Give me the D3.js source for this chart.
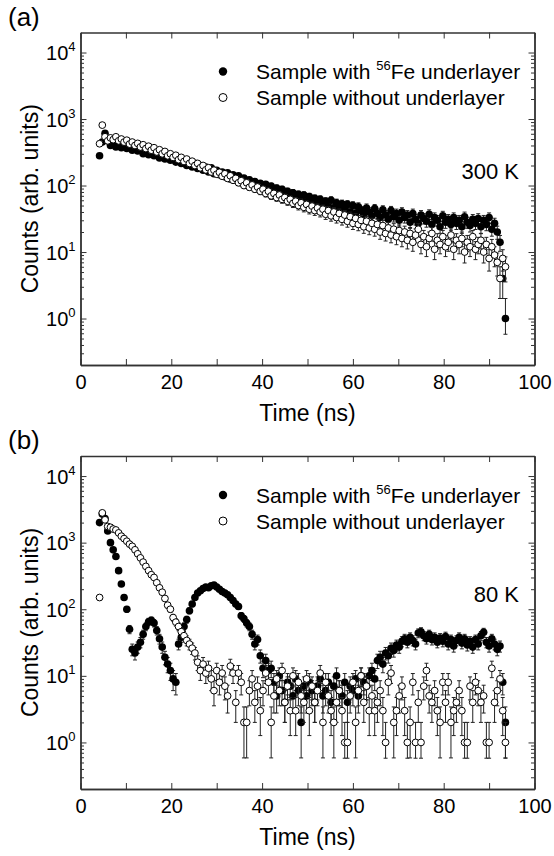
<!DOCTYPE html>
<html>
<head>
<meta charset="utf-8">
<script src="https://cdn.jsdelivr.net/npm/d3@7"></script>
<style>
  body { margin: 0; background: #fff; }
  svg { display: block; font-family: Arial, "Liberation Sans", sans-serif; }
</style>
</head>
<body>
<div id="chart-holder"></div>
<script>
// ****DATA**** (counts per time channel)
const timeNs = [
  4.2, 4.8, 5.4, 6.0, 6.6, 7.2, 7.8, 8.4, 9.0, 9.6,
  10.2, 10.8, 11.4, 12.0, 12.6, 13.2, 13.8, 14.4, 15.0, 15.6,
  16.2, 16.8, 17.4, 18.0, 18.6, 19.2, 19.8, 20.4, 21.0, 21.6,
  22.2, 22.8, 23.4, 24.0, 24.6, 25.2, 25.8, 26.4, 27.0, 27.6,
  28.2, 28.8, 29.4, 30.0, 30.6, 31.2, 31.8, 32.4, 33.0, 33.6,
  34.2, 34.8, 35.4, 36.0, 36.6, 37.2, 37.8, 38.4, 39.0, 39.6,
  40.2, 40.8, 41.4, 42.0, 42.6, 43.2, 43.8, 44.4, 45.0, 45.6,
  46.2, 46.8, 47.4, 48.0, 48.6, 49.2, 49.8, 50.4, 51.0, 51.6,
  52.2, 52.8, 53.4, 54.0, 54.6, 55.2, 55.8, 56.4, 57.0, 57.6,
  58.2, 58.8, 59.4, 60.0, 60.6, 61.2, 61.8, 62.4, 63.0, 63.6,
  64.2, 64.8, 65.4, 66.0, 66.6, 67.2, 67.8, 68.4, 69.0, 69.6,
  70.2, 70.8, 71.4, 72.0, 72.6, 73.2, 73.8, 74.4, 75.0, 75.6,
  76.2, 76.8, 77.4, 78.0, 78.6, 79.2, 79.8, 80.4, 81.0, 81.6,
  82.2, 82.8, 83.4, 84.0, 84.6, 85.2, 85.8, 86.4, 87.0, 87.6,
  88.2, 88.8, 89.4, 90.0, 90.6, 91.2, 91.8, 92.4, 93.0, 93.6
];

// (a) 300 K
const withFe300K = [
  280, 450, 610, 470, 400, 430, 380, 410, 370, 400,
  360, 395, 340, 370, 330, 350, 300, 335, 290, 320,
  280, 310, 260, 290, 250, 275, 240, 265, 225, 250,
  215, 240, 200, 225, 190, 215, 180, 200, 170, 190,
  160, 185, 150, 170, 145, 160, 135, 155, 125, 145,
  120, 140, 110, 130, 105, 122, 98, 115, 92, 108,
  90, 104, 84, 98, 78, 92, 74, 88, 70, 82,
  68, 78, 64, 74, 60, 72, 57, 68, 55, 64,
  52, 62, 50, 58, 48, 60, 46, 55, 44, 53,
  43, 52, 40, 50, 38, 48, 42, 37, 46, 40,
  35, 45, 38, 33, 43, 36, 31, 42, 34, 38,
  30, 40, 33, 36, 28, 38, 31, 27, 36, 32,
  29, 37, 26, 33, 30, 24, 35, 28, 31, 26,
  33, 27, 30, 24, 34, 28, 25, 31, 27, 32,
  24, 30, 26, 33, 22, 27, 20, 14, 4, 1
];
const withoutFe300K = [
  425, 810, 540, 470, 520, 490, 540, 470, 500, 450,
  480, 420, 450, 400, 430, 380, 410, 360, 390, 340,
  370, 320, 345, 300, 325, 280, 300, 265, 285, 245,
  265, 230, 250, 215, 232, 200, 215, 185, 200, 172,
  185, 160, 170, 148, 158, 138, 150, 128, 140, 120,
  128, 110, 118, 100, 110, 94, 102, 88, 95, 82,
  88, 76, 82, 70, 76, 66, 72, 62, 66, 58,
  62, 54, 58, 50, 55, 47, 52, 44, 49, 42,
  46, 40, 44, 37, 42, 35, 40, 33, 38, 31,
  36, 29, 34, 27, 32, 26, 30, 24, 29, 23,
  27, 22, 26, 20, 25, 19, 23, 18, 22, 17,
  21, 16, 20, 15, 19, 14, 18, 22, 13, 17,
  12, 16, 19, 11, 15, 13, 17, 12, 14, 18,
  11, 15, 13, 16, 10, 14, 12, 17, 11, 13,
  15, 10, 13, 8, 12, 9, 7, 4, 8, 6
];

// (b) 80 K
const withFe80K = [
  2000, 2700, 2300, 1500, 1000, 780, 620, 380, 240, 150,
  100, 50, 25, 22, 27, 32, 42, 55, 65, 68,
  62, 48, 36, 27, 19, 15, 12, 9, 8, 30,
  38, 55, 70, 95, 120, 150, 175, 190, 205, 215,
  210, 225, 230, 215, 200, 185, 175, 165, 150, 135,
  120, 110, 80, 72, 62, 55, 42, 30, 35, 20,
  13, 17, 12, 13, 8, 5, 10, 6, 4, 8,
  7, 5, 9, 6, 2, 7, 5, 8, 6, 4,
  7, 9, 5, 6, 8, 4, 7, 10, 6, 5,
  8, 4, 7, 6, 9, 5, 10, 8, 7, 10,
  12, 9, 17, 19, 15, 22, 20, 26, 24, 29,
  27, 33, 36, 32, 38, 34, 30, 44, 46, 40,
  36, 42, 35, 38, 32, 37, 33, 39, 30, 35,
  28, 34, 38, 31, 36, 29, 33, 27, 35, 30,
  40, 45, 32, 28, 36, 30, 25, 28, 8, 2
];
const withoutFe80K = [
  150, 2800, 2200, 1750, 1700, 1600, 1550, 1400, 1250, 1150,
  1050, 950, 880, 780, 680, 590, 510, 440, 380, 330,
  300, 250, 210, 180, 145, 115, 100, 75, 64, 55,
  46, 40, 34, 30, 26, 22, 16, 12, 15, 11,
  13, 9, 6, 12, 8, 11, 7, 5, 14, 11,
  4, 11, 8, 2, 2, 6, 9, 4, 7, 3,
  6, 11, 8, 2, 5, 9, 6, 12, 4, 7,
  3, 10, 3, 8, 5, 4, 9, 3, 7, 4,
  6, 11, 2, 8, 5, 3, 2, 4, 6, 3,
  1, 1, 5, 8, 2, 6, 10, 4, 7, 3,
  5, 3, 4, 6, 3, 1, 8, 11, 2, 3,
  5, 7, 3, 1, 2, 8, 1, 4, 1, 7,
  12, 5, 4, 6, 3, 2, 8, 4, 8, 2,
  3, 4, 6, 3, 1, 1, 7, 4, 8, 6,
  4, 5, 1, 1, 13, 4, 6, 9, 3, 1
];

const xTickValues = [0, 20, 40, 60, 80, 100];
const xMinorTicks = [10, 30, 50, 70, 90];
const yDecades = [1, 10, 100, 1000, 10000];
const legendWith = ["Sample with ", "56", "Fe underlayer"];
const legendWithout = "Sample without underlayer";
const panelLetters = ["(a)", "(b)"];
const tempLabels = ["300 K", "80 K"];
const xTitle = "Time (ns)";
const yTitle = "Counts (arb. units)";

// ****SVG CANVAS****
const width = 554;
const height = 856;
const svg = d3.select('#chart-holder')
              .append('svg')
              .attr('width', width)
              .attr('height', height);

const panels = [
  { top: 32.5, bottom: 365, letter: panelLetters[0], temp: tempLabels[0],
    withData: withFe300K, withoutData: withoutFe300K },
  { top: 456, bottom: 789, letter: panelLetters[1], temp: tempLabels[1],
    withData: withFe80K, withoutData: withoutFe80K }
];

panels.forEach(drawPanel);

function drawPanel(p) {
  const left = 80.5, right = 534.5;
  const axisColor = '#333';

  const xScale = d3.scaleLinear().domain([0, 100]).range([left, right]);
  const yScale = d3.scaleLog().domain([0.2, 20000]).range([p.bottom, p.top]);

  const g = svg.append('g');

  // minor log ticks 2..9 inside the domain
  const yMinor = [];
  [-1, 0, 1, 2, 3, 4].forEach(function(k) {
    for (let m = 2; m <= 9; m++) {
      const v = m * Math.pow(10, k);
      if (v > 0.2 && v < 20000) yMinor.push(v);
    }
  });

  // ----- axes (ticks pointing inward) -----
  const bottomAxis = g.append('g')
      .attr('transform', `translate(0, ${p.bottom})`)
      .call(d3.axisBottom(xScale).tickValues(xTickValues).tickSize(-6)
              .tickSizeOuter(0).tickPadding(10).tickFormat(d3.format('d')));
  g.append('g')
      .attr('transform', `translate(0, ${p.bottom})`)
      .call(d3.axisBottom(xScale).tickValues(xMinorTicks).tickSize(-6)
              .tickSizeOuter(0).tickFormat(''));
  g.append('g')
      .attr('transform', `translate(0, ${p.top})`)
      .call(d3.axisTop(xScale).tickValues(xTickValues.concat(xMinorTicks)).tickSize(-6)
              .tickSizeOuter(0).tickFormat(''));

  const leftAxis = g.append('g')
      .attr('transform', `translate(${left}, 0)`)
      .call(d3.axisLeft(yScale).tickValues(yDecades).tickSize(-6)
              .tickSizeOuter(0).tickPadding(6).tickFormat(''));
  g.append('g')
      .attr('transform', `translate(${left}, 0)`)
      .call(d3.axisLeft(yScale).tickValues(yMinor).tickSize(-3.5)
              .tickSizeOuter(0).tickFormat(''));
  g.append('g')
      .attr('transform', `translate(${right}, 0)`)
      .call(d3.axisRight(yScale).tickValues(yDecades).tickSize(-6)
              .tickSizeOuter(0).tickFormat(''));
  g.append('g')
      .attr('transform', `translate(${right}, 0)`)
      .call(d3.axisRight(yScale).tickValues(yMinor).tickSize(-3.5)
              .tickSizeOuter(0).tickFormat(''));

  g.selectAll('.domain').attr('stroke', axisColor).attr('stroke-width', 1.4);
  g.selectAll('.tick line').attr('stroke', axisColor).attr('stroke-width', 1);

  bottomAxis.selectAll('text')
      .attr('font-size', 20)
      .attr('fill', '#000')
      .attr('font-family', 'Arial, "Liberation Sans", sans-serif');

  // decade labels 10^n with superscripts
  leftAxis.selectAll('.tick').each(function(d) {
    const t = d3.select(this).append('text')
        .attr('x', -5)
        .attr('y', 7)
        .attr('text-anchor', 'end')
        .attr('fill', '#000')
        .attr('font-size', 20)
        .attr('font-family', 'Arial, "Liberation Sans", sans-serif');
    t.append('tspan').text('10');
    t.append('tspan').attr('font-size', 13).attr('dy', -9)
        .text(Math.round(Math.log10(d)));
  });

  // ----- data -----
  const points = function(values) {
    return values.map(function(v, i) { return { t: timeNs[i], v: v }; });
  };
  const lowerErr = function(d) { return Math.max(d.v - Math.sqrt(d.v), 0.58); };
  const upperErr = function(d) { return d.v + Math.sqrt(d.v); };

  function drawSeries(values, filled) {
    const data = points(values);
    const eg = g.append('g').attr('stroke', '#222').attr('stroke-width', 1);
    eg.selectAll('line.bar').data(data).enter().append('line')
        .attr('x1', function(d) { return xScale(d.t); })
        .attr('x2', function(d) { return xScale(d.t); })
        .attr('y1', function(d) { return yScale(lowerErr(d)); })
        .attr('y2', function(d) { return yScale(upperErr(d)); });
    eg.selectAll('line.capHi').data(data).enter().append('line')
        .attr('x1', function(d) { return xScale(d.t) - 2; })
        .attr('x2', function(d) { return xScale(d.t) + 2; })
        .attr('y1', function(d) { return yScale(upperErr(d)); })
        .attr('y2', function(d) { return yScale(upperErr(d)); });
    eg.selectAll('line.capLo').data(data).enter().append('line')
        .attr('x1', function(d) { return xScale(d.t) - 2; })
        .attr('x2', function(d) { return xScale(d.t) + 2; })
        .attr('y1', function(d) { return yScale(lowerErr(d)); })
        .attr('y2', function(d) { return yScale(lowerErr(d)); });
    g.append('g').selectAll('circle').data(data).enter().append('circle')
        .attr('cx', function(d) { return xScale(d.t); })
        .attr('cy', function(d) { return yScale(d.v); })
        .attr('r', filled ? 3.8 : 3.4)
        .attr('fill', filled ? '#000' : '#fff')
        .attr('stroke', '#000')
        .attr('stroke-width', filled ? 0 : 1);
  }
  drawSeries(p.withData, true);
  drawSeries(p.withoutData, false);

  // ----- legend -----
  const ly = p.top + 39;
  g.append('circle').attr('cx', 223).attr('cy', ly).attr('r', 4.2).attr('fill', '#000');
  g.append('circle').attr('cx', 223).attr('cy', ly + 26).attr('r', 4)
      .attr('fill', '#fff').attr('stroke', '#000').attr('stroke-width', 1);
  const l1 = g.append('text').attr('x', 256).attr('y', ly + 7.5).attr('font-size', 21);
  l1.append('tspan').text(legendWith[0]);
  l1.append('tspan').attr('font-size', 13).attr('dy', -9).text(legendWith[1]);
  l1.append('tspan').attr('dy', 9).text(legendWith[2]);
  g.append('text').attr('x', 256).attr('y', ly + 33.5).attr('font-size', 21)
      .text(legendWithout);

  // temperature
  g.append('text').attr('x', 519).attr('y', p.top + 146).attr('text-anchor', 'end')
      .attr('font-size', 22).text(p.temp);

  // panel letter
  g.append('text').attr('x', 8).attr('y', p.top - 7).attr('font-size', 26).text(p.letter);

  // axis titles
  g.append('text').attr('x', (left + right) / 2).attr('y', p.bottom + 56)
      .attr('text-anchor', 'middle').attr('font-size', 23).text(xTitle);
  g.append('text')
      .attr('transform', `translate(38, ${(p.top + p.bottom) / 2}) rotate(-90)`)
      .attr('text-anchor', 'middle').attr('font-size', 23).text(yTitle);
}
</script>
</body>
</html>
